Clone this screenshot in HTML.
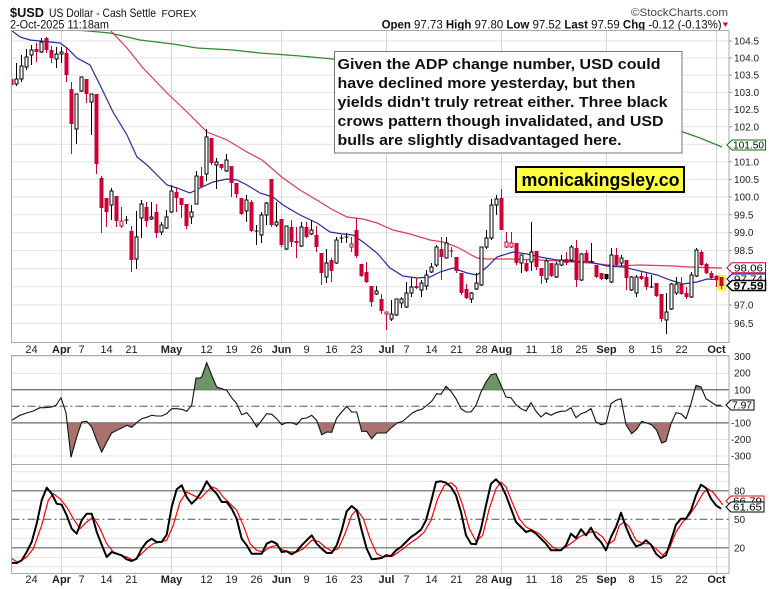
<!DOCTYPE html>
<html><head><meta charset="utf-8"><style>
html,body{margin:0;padding:0;background:#fff;}
svg{display:block;font-family:"Liberation Sans",Arial,sans-serif;}
</style></head><body>
<svg width="772" height="589" viewBox="0 0 772 589" xmlns="http://www.w3.org/2000/svg">
<defs>
<clipPath id="cm"><rect x="11.5" y="30.5" width="717.5" height="312"/></clipPath>
<clipPath id="cc"><rect x="11.5" y="355.5" width="717.5" height="109"/></clipPath>
<clipPath id="cs"><rect x="11.5" y="464.5" width="717.5" height="109"/></clipPath>
<clipPath id="ca"><rect x="11.5" y="355.5" width="717.5" height="34.25"/></clipPath>
<clipPath id="cb"><rect x="11.5" y="422.85" width="717.5" height="41.65"/></clipPath>
</defs>
<rect width="772" height="589" fill="#fff"/>

<!-- Header -->
<text x="10" y="17" font-size="13" font-weight="bold" fill="#111" textLength="34" lengthAdjust="spacingAndGlyphs">$USD</text>
<text x="49" y="17" font-size="12" fill="#111" textLength="107" lengthAdjust="spacingAndGlyphs">US Dollar - Cash Settle</text>
<text x="161.5" y="17" font-size="10" fill="#111" textLength="35" lengthAdjust="spacingAndGlyphs">FOREX</text>
<text x="10" y="28.5" font-size="12" fill="#111" textLength="99" lengthAdjust="spacingAndGlyphs">2-Oct-2025 11:18am</text>
<text x="631" y="16" font-size="11" fill="#444" textLength="97" lengthAdjust="spacingAndGlyphs">©StockCharts.com</text>
<text x="381.6" y="28.5" font-size="12" fill="#111" textLength="340" lengthAdjust="spacingAndGlyphs"><tspan font-weight="bold">Open</tspan> 97.73 <tspan font-weight="bold">High</tspan> 97.80 <tspan font-weight="bold">Low</tspan> 97.52 <tspan font-weight="bold">Last</tspan> 97.59 <tspan font-weight="bold">Chg</tspan> -0.12 (-0.13%)</text>
<path d="M722.8 22.5 L728 22.5 L725.4 27 Z" fill="#cc0033"/>

<!-- Main panel grid -->
<g stroke="#e2e2e2" stroke-width="1">
<path d="M11.5 41H729 M11.5 58H729 M11.5 75.1H729 M11.5 92.3H729 M11.5 109.5H729 M11.5 126.8H729 M11.5 144.3H729 M11.5 161.8H729 M11.5 179.4H729 M11.5 197H729 M11.5 214.8H729 M11.5 232.7H729 M11.5 250.6H729 M11.5 268.7H729 M11.5 286.8H729 M11.5 305H729 M11.5 323.4H729"/>
</g>
<g stroke="#d6d6d6" stroke-width="1">
<path d="M61.5 30.5V342.5 M171.5 30.5V342.5 M281.5 30.5V342.5 M386.5 30.5V342.5 M501.5 30.5V342.5 M606.5 30.5V342.5 M716.5 30.5V342.5"/>
<path d="M61.5 355.5V573.5 M171.5 355.5V573.5 M281.5 355.5V573.5 M386.5 355.5V573.5 M501.5 355.5V573.5 M606.5 355.5V573.5 M716.5 355.5V573.5"/>
</g>

<g clip-path="url(#cm)">
<!-- moving averages -->
<polyline fill="none" stroke="#2e8b2e" stroke-width="1.3" points="70,28 77,30 110,33 140,40 173,44 197,48 233,50 260,53 300,56 333,59 420,74 520,93 620,113 683,132 700,138 722,147"/>
<polyline fill="none" stroke="#e03a4e" stroke-width="1.2" points="106,26 110,30 127,48 143,68 167,93 187,112 207,132 227,140 247,152 262,160 283,178 300,190 320,202 333,210 347,217 363,219 377,223 393,230 410,234 430,240 443,242 457,247 477,258 487,259 500,259 507,259 540,260 590,263 617,266 640,265 673,266 690,267 722,268"/>
<polyline fill="none" stroke="#2a2aa0" stroke-width="1.2" points="11,30 20,37 30,40 50,42 60,43 67,48 77,58 90,65 100,85 113,112 127,135 137,157 147,165 160,178 167,185 177,188 190,193 200,188 213,182 227,179 237,180 247,185 260,193 273,197 283,205 300,215 317,223 330,232 343,234 353,235 363,242 377,253 390,268 403,276 417,278 430,277 440,272 453,268 467,273 477,275 487,267 497,257 500,256 513,252 527,254 540,257 557,260 573,261 590,262 607,266 623,267 640,271 657,275 670,280 683,284 697,282 707,279 722,280"/>

<!-- yellow highlight last candle -->
<rect x="717.5" y="275" width="8.5" height="16" fill="#fff04a"/>

<!-- red wicks -->
<path fill="none" stroke="#cc0033" stroke-width="1" d="M11.5 77V86 M36.5 43V62 M46.5 37V53 M51.5 46V63 M66.5 48V82 M71.5 82V154 M86.5 79V103 M96.5 94V174 M101.5 176V233 M106.5 198V227 M116.5 196V227 M121.5 207V228 M131.5 226V272 M146.5 202V227 M156.5 204V238 M176.5 188V212 M181.5 198V218 M186.5 204V229 M201.5 167V187 M211.5 138V165 M221.5 164V170 M231.5 166V197 M236.5 183V198 M241.5 198V215 M251.5 200V232 M271.5 179V227 M281.5 219V247 M291.5 220V247 M296.5 227V258 M306.5 222V238 M316.5 226V252 M321.5 253V285 M331.5 258V282 M351.5 237V252 M356.5 218V258 M361.5 264V277 M366.5 262V283 M371.5 286V307 M381.5 294V314 M386.5 312V330 M416.5 278V289 M441.5 237V280 M451.5 247V257 M456.5 257V273 M461.5 273V295 M466.5 284V299 M501.5 189V230 M506.5 232V248 M511.5 232V248 M516.5 243V265 M526.5 260V272 M536.5 251V270 M541.5 268V284 M551.5 263V277 M566.5 252V265 M576.5 240V287 M586.5 250V263 M596.5 265V278 M601.5 273V280 M616.5 248V266 M626.5 260V290 M641.5 272V280 M646.5 273V290 M656.5 283V297 M661.5 294V322 M681.5 277V295 M686.5 287V299 M701.5 250V266 M706.5 263V274 M711.5 271V279 M716.5 275V287 M721.5 277V289 M449.5 251H453.5"/>
<!-- red bodies -->
<g fill="#cc0033">
<rect x="9.5" y="79" width="4" height="6"/><rect x="34.5" y="49" width="4" height="3"/><rect x="44.5" y="38" width="4" height="12"/><rect x="49.5" y="50" width="4" height="8"/><rect x="64.5" y="53" width="4" height="22"/><rect x="69.5" y="89" width="4" height="35"/><rect x="84.5" y="79" width="4" height="15"/><rect x="94.5" y="94" width="4" height="70"/><rect x="99.5" y="178" width="4" height="30"/><rect x="104.5" y="198" width="4" height="14"/><rect x="114.5" y="196" width="4" height="25"/><rect x="129.5" y="231" width="4" height="29"/><rect x="144.5" y="207" width="4" height="14"/><rect x="154.5" y="212" width="4" height="21"/><rect x="174.5" y="192" width="4" height="6"/><rect x="179.5" y="198" width="4" height="7"/><rect x="184.5" y="204" width="4" height="22"/><rect x="199.5" y="176" width="4" height="11"/><rect x="209.5" y="138" width="4" height="25"/><rect x="219.5" y="164" width="4" height="4"/><rect x="229.5" y="166" width="4" height="17"/><rect x="234.5" y="183" width="4" height="11"/><rect x="239.5" y="198" width="4" height="16"/><rect x="249.5" y="202" width="4" height="29"/><rect x="269.5" y="179" width="4" height="46"/><rect x="279.5" y="219" width="4" height="26"/><rect x="289.5" y="227" width="4" height="15"/><rect x="294.5" y="241" width="4" height="2"/><rect x="304.5" y="227" width="4" height="10"/><rect x="314.5" y="235" width="4" height="12"/><rect x="319.5" y="253" width="4" height="20"/><rect x="329.5" y="260" width="4" height="11"/><rect x="354.5" y="230" width="4" height="26"/><rect x="359.5" y="264" width="4" height="12"/><rect x="364.5" y="272" width="4" height="10"/><rect x="369.5" y="286" width="4" height="16"/><rect x="379.5" y="299" width="4" height="12"/><rect x="414.5" y="286" width="4" height="2"/><rect x="439.5" y="249" width="4" height="8"/><rect x="454.5" y="257" width="4" height="14"/><rect x="459.5" y="273" width="4" height="20"/><rect x="464.5" y="289" width="4" height="9"/><rect x="499.5" y="198" width="4" height="32"/><rect x="514.5" y="243" width="4" height="20"/><rect x="524.5" y="263" width="4" height="8"/><rect x="534.5" y="251" width="4" height="16"/><rect x="539.5" y="268" width="4" height="8"/><rect x="549.5" y="263" width="4" height="13"/><rect x="564.5" y="259" width="4" height="4"/><rect x="574.5" y="248" width="4" height="32"/><rect x="584.5" y="253" width="4" height="9"/><rect x="594.5" y="265" width="4" height="12"/><rect x="599.5" y="273" width="4" height="6"/><rect x="614.5" y="255" width="4" height="10"/><rect x="624.5" y="260" width="4" height="18"/><rect x="639.5" y="276" width="4" height="3"/><rect x="644.5" y="277" width="4" height="10"/><rect x="654.5" y="283" width="4" height="13"/><rect x="659.5" y="294" width="4" height="25"/><rect x="679.5" y="284" width="4" height="10"/><rect x="684.5" y="293" width="4" height="4"/><rect x="699.5" y="252" width="4" height="13"/><rect x="704.5" y="264" width="4" height="9"/><rect x="709.5" y="273" width="4" height="5"/><rect x="714.5" y="276" width="4" height="4"/><rect x="719.5" y="277" width="4" height="9"/>
</g>
<!-- red hollow -->
<g fill="#fff" stroke="#cc0033" stroke-width="1">
<rect x="120" y="221" width="3" height="5"/><rect x="350" y="244" width="3" height="3"/><rect x="385" y="312" width="3" height="2"/><rect x="505" y="242" width="3" height="5"/><rect x="510" y="243" width="3" height="4"/>
</g>
<!-- black wicks -->
<path fill="none" stroke="#000" stroke-width="1" d="M16.5 63V86 M21.5 55V82 M26.5 49V70 M31.5 45V65 M41.5 38V53 M56.5 47V68 M61.5 47V63 M76.5 94V144 M81.5 77V92 M91.5 94V135 M111.5 188V220 M126.5 216V224 M136.5 211V269 M141.5 200V238 M151.5 202V220 M161.5 222V235 M166.5 210V229 M171.5 185V213 M191.5 205V224 M196.5 171V204 M206.5 129V181 M216.5 158V189 M226.5 154V172 M246.5 195V222 M256.5 225V245 M261.5 212V243 M266.5 202V225 M276.5 202V227 M286.5 226V250 M301.5 222V247 M311.5 220V235 M326.5 249V283 M336.5 237V264 M341.5 235V243 M346.5 233V243 M376.5 286V295 M391.5 300V321 M396.5 299V316 M401.5 297V308 M406.5 282V308 M411.5 278V297 M421.5 280V297 M426.5 270V290 M431.5 263V273 M436.5 245V267 M446.5 237V258 M471.5 292V303 M476.5 273V290 M481.5 247V286 M486.5 230V249 M491.5 199V240 M496.5 195V215 M521.5 255V273 M531.5 222V271 M546.5 259V283 M556.5 262V278 M561.5 255V266 M571.5 245V262 M581.5 253V281 M591.5 243V263 M606.5 274V280 M611.5 248V283 M621.5 255V266 M631.5 276V291 M636.5 275V297 M651.5 275V288 M666.5 293V334 M671.5 283V310 M676.5 277V295 M691.5 272V298 M696.5 248V277 M124.5 220H128.5 M254.5 231H258.5 M339.5 238H343.5 M344.5 237H348.5 M589.5 261.5H593.5 M649.5 287H653.5"/>
<rect x="604.5" y="274" width="4" height="5" fill="#000"/>
<!-- white bodies -->
<g fill="#fff" stroke="#000" stroke-width="1">
<rect x="15" y="79" width="3" height="5"/><rect x="20" y="66" width="3" height="13"/><rect x="25" y="57" width="3" height="10"/><rect x="30" y="50" width="3" height="5"/><rect x="40" y="42" width="3" height="10"/><rect x="55" y="54" width="3" height="5"/><rect x="60" y="52" width="3" height="2"/><rect x="75" y="94" width="3" height="35"/><rect x="80" y="77" width="3" height="14"/><rect x="90" y="94" width="3" height="8"/><rect x="110" y="191" width="3" height="14"/><rect x="135" y="237" width="3" height="22"/><rect x="140" y="204" width="3" height="14"/><rect x="150" y="217" width="3" height="2"/><rect x="160" y="225" width="3" height="7"/><rect x="165" y="217" width="3" height="11"/><rect x="170" y="191" width="3" height="21"/><rect x="190" y="212" width="3" height="5"/><rect x="195" y="176" width="3" height="28"/><rect x="205" y="137" width="3" height="37"/><rect x="215" y="162" width="3" height="3"/><rect x="225" y="160" width="3" height="11"/><rect x="245" y="200" width="3" height="11"/><rect x="260" y="215" width="3" height="20"/><rect x="265" y="203" width="3" height="12"/><rect x="275" y="222" width="3" height="3"/><rect x="285" y="226" width="3" height="23"/><rect x="300" y="227" width="3" height="19"/><rect x="310" y="230" width="3" height="4"/><rect x="325" y="263" width="3" height="14"/><rect x="335" y="240" width="3" height="23"/><rect x="375" y="291" width="3" height="3"/><rect x="390" y="314" width="3" height="5"/><rect x="395" y="299" width="3" height="16"/><rect x="400" y="299" width="3" height="4"/><rect x="405" y="293" width="3" height="14"/><rect x="410" y="287" width="3" height="6"/><rect x="420" y="283" width="3" height="7"/><rect x="425" y="275" width="3" height="11"/><rect x="430" y="267" width="3" height="5"/><rect x="435" y="247" width="3" height="18"/><rect x="445" y="243" width="3" height="15"/><rect x="470" y="293" width="3" height="6"/><rect x="475" y="283" width="3" height="6"/><rect x="480" y="247" width="3" height="38"/><rect x="485" y="238" width="3" height="9"/><rect x="490" y="205" width="3" height="33"/><rect x="495" y="199" width="3" height="6"/><rect x="520" y="255" width="3" height="8"/><rect x="530" y="252" width="3" height="10"/><rect x="545" y="261" width="3" height="18"/><rect x="555" y="264" width="3" height="13"/><rect x="560" y="260" width="3" height="5"/><rect x="570" y="247" width="3" height="13"/><rect x="580" y="254" width="3" height="26"/><rect x="610" y="255" width="3" height="27"/><rect x="620" y="258" width="3" height="5"/><rect x="630" y="277" width="3" height="13"/><rect x="635" y="277" width="3" height="16"/><rect x="665" y="312" width="3" height="8"/><rect x="670" y="284" width="3" height="25"/><rect x="675" y="284" width="3" height="9"/><rect x="690" y="275" width="3" height="22"/><rect x="695" y="250" width="3" height="26"/>
</g>
</g>

<!-- Annotation boxes -->
<rect x="334.5" y="51.5" width="347.5" height="101.5" fill="#fff" stroke="#777" stroke-width="1"/>
<g font-size="15" font-weight="bold" fill="#111">
<text x="337.5" y="69" textLength="323" lengthAdjust="spacingAndGlyphs">Given the ADP change number, USD could</text>
<text x="337.5" y="88" textLength="298" lengthAdjust="spacingAndGlyphs">have declined more yesterday, but then</text>
<text x="337.5" y="107" textLength="330" lengthAdjust="spacingAndGlyphs">yields didn't truly retreat either. Three black</text>
<text x="337.5" y="126" textLength="326" lengthAdjust="spacingAndGlyphs">crows pattern though invalidated, and USD</text>
<text x="337.5" y="145" textLength="284" lengthAdjust="spacingAndGlyphs">bulls are slightly disadvantaged here.</text>
</g>
<rect x="516" y="167" width="168" height="25" fill="#ffff40" stroke="#000" stroke-width="2"/>
<text x="521.5" y="186" font-size="18.5" font-weight="bold" fill="#000" textLength="158" lengthAdjust="spacingAndGlyphs">monicakingsley.co</text>

<!-- Main frame -->
<rect x="11.5" y="30.5" width="717.5" height="312" fill="none" stroke="#aaa" stroke-width="1"/>

<!-- Right axis main -->
<g stroke="#999" stroke-width="1">
<path d="M729 41h3 M729 58h3 M729 75.1h3 M729 92.3h3 M729 109.5h3 M729 126.8h3 M729 161.8h3 M729 179.4h3 M729 197h3 M729 214.8h3 M729 232.7h3 M729 250.6h3 M729 305h3 M729 323.4h3"/>
</g>
<g font-size="10" fill="#222">
<text x="734" y="44.5">104.5</text><text x="734" y="61.5">104.0</text><text x="734" y="78.6">103.5</text><text x="734" y="95.8">103.0</text><text x="734" y="113">102.5</text><text x="734" y="130.3">102.0</text><text x="734" y="165.3">101.0</text><text x="734" y="182.9">100.5</text><text x="734" y="200.5">100.0</text><text x="734" y="218.3">99.5</text><text x="734" y="236.2">99.0</text><text x="734" y="254.1">98.5</text><text x="734" y="308.5">97.0</text><text x="734" y="326.9">96.5</text>
</g>
<!-- Tags -->
<g font-size="10">
<path d="M727 145 L732 140 L765.5 140 L765.5 150 L732 150 Z" fill="#fff" stroke="#007700" stroke-width="1"/>
<text x="733" y="148.6" fill="#000" textLength="31" lengthAdjust="spacingAndGlyphs">101.50</text>
<path d="M727 267.7 L732 262.7 L765.5 262.7 L765.5 272.7 L732 272.7 Z" fill="#fff" stroke="#cc0033" stroke-width="1"/>
<text x="734" y="271.3" fill="#000" textLength="29" lengthAdjust="spacingAndGlyphs">98.06</text>
<path d="M727 279 L732 274 L765.5 274 L765.5 284 L732 284 Z" fill="#fff" stroke="#0000aa" stroke-width="1"/>
<text x="734" y="282.6" fill="#000" textLength="29" lengthAdjust="spacingAndGlyphs">97.74</text>
<path d="M727 285.5 L732 280.5 L765.5 280.5 L765.5 290.5 L732 290.5 Z" fill="#fff" stroke="#000" stroke-width="1.5"/>
<text x="733.5" y="289.3" fill="#000" font-weight="bold" font-size="11" textLength="30" lengthAdjust="spacingAndGlyphs">97.59</text>
</g>

<!-- X labels top -->
<g font-size="11" fill="#222" text-anchor="middle">
<text x="31.5" y="353">24</text><text x="61.5" y="353" font-weight="bold">Apr</text><text x="81.5" y="353">7</text><text x="106.5" y="353">14</text><text x="131.5" y="353">21</text><text x="171.5" y="353" font-weight="bold">May</text><text x="206.5" y="353">12</text><text x="231.5" y="353">19</text><text x="256.5" y="353">26</text><text x="281.5" y="353" font-weight="bold">Jun</text><text x="306.5" y="353">9</text><text x="331.5" y="353">16</text><text x="356.5" y="353">23</text><text x="386.5" y="353" font-weight="bold">Jul</text><text x="406.5" y="353">7</text><text x="431.5" y="353">14</text><text x="456.5" y="353">21</text><text x="481.5" y="353">28</text><text x="501.5" y="353" font-weight="bold">Aug</text><text x="531.5" y="353">11</text><text x="556.5" y="353">18</text><text x="581.5" y="353">25</text><text x="606.5" y="353" font-weight="bold">Sep</text><text x="631.5" y="353">8</text><text x="656.5" y="353">15</text><text x="681.5" y="353">22</text><text x="716.5" y="353" font-weight="bold">Oct</text>
</g>

<!-- CCI panel -->
<g stroke="#e2e2e2" stroke-width="1"><path d="M11.5 356.7H729 M11.5 373.2H729 M11.5 439.4H729 M11.5 456H729"/></g>
<g stroke="#666" stroke-width="1.2"><path d="M11.5 389.75H729 M11.5 422.85H729"/></g>
<path d="M11.5 406.3H729" stroke="#555" stroke-width="1" stroke-dasharray="8,3,2,3"/>
<g clip-path="url(#cc)">
<polygon clip-path="url(#ca)" fill="#6f946a" points="11.7,389.75 11.7,420.3 20,415.3 26.7,413 33.3,411 40,407.7 45,407.7 51.7,407 56,405.3 61,397.7 66,412.7 71,457.3 76.7,437 81.7,422 86.7,421.3 91.7,427 96.7,440.3 101.7,452 106.7,442 111.7,433 116.7,430.3 121.7,428 126.7,425.3 131.7,427.3 136.7,422.7 141.7,418.7 146.7,417.3 151.7,415.3 156.7,416 161.7,416 166.7,413.7 171.7,408.7 176.7,408.7 181.7,409.3 186.7,411.3 191.7,405.3 196,378 200,378 201.7,377 206.7,362.7 211.7,375.3 216.7,387 221.7,388.7 226.7,390.3 231.7,397.7 236.7,403.7 241.7,414.7 246.7,412.7 251.7,418.7 256.7,427 261.7,420.3 266.7,413.7 271.7,414.3 276.7,418.7 281.7,424.7 286.7,422.7 291.7,422.7 296.7,424.7 301.7,418.7 306.7,418 311.7,415.3 316.7,420.3 321.7,434.7 326.7,432 331.7,432.3 336.7,418 341.7,412 346.7,406.3 351.7,412 356.7,412 361.7,431.3 366.7,431.3 371.7,438.7 376.7,433 381.7,433 386,433 391,428 397.7,422.7 402.7,421.3 407.7,417 412.7,412.7 417.7,410.3 422,409.3 426,406 431.7,401.3 436.7,393.7 441,394.3 446,386.3 451,391.3 456,398.7 461,408.7 466,412 471,412 476,405.3 481,392 486,382 491,374.7 496,373.7 501,385.3 506,397 511,397.7 516,404.7 521,408.7 526,411 531,402.7 536,411.3 541,417 546,412.7 551,415.3 556,412.7 561,411.3 566,411 571,407.7 576,417.7 581,413.7 586,412 591,408.7 596,422 601,424.7 606,423.7 611,403.7 616,400.3 621,398.7 626,424.7 631.7,433.7 636.7,429.3 641.7,421.3 646.7,423 651.7,424.7 656.7,430.3 661.7,443 666,441.3 671,423.7 676,412.7 681,413.7 686,418.7 691,403.7 696,385.3 701,387 706,398.7 711,402 716,405.3 721,405.3 721,389.75"/>
<polygon clip-path="url(#cb)" fill="#a8736f" points="11.7,422.85 11.7,420.3 20,415.3 26.7,413 33.3,411 40,407.7 45,407.7 51.7,407 56,405.3 61,397.7 66,412.7 71,457.3 76.7,437 81.7,422 86.7,421.3 91.7,427 96.7,440.3 101.7,452 106.7,442 111.7,433 116.7,430.3 121.7,428 126.7,425.3 131.7,427.3 136.7,422.7 141.7,418.7 146.7,417.3 151.7,415.3 156.7,416 161.7,416 166.7,413.7 171.7,408.7 176.7,408.7 181.7,409.3 186.7,411.3 191.7,405.3 196,378 200,378 201.7,377 206.7,362.7 211.7,375.3 216.7,387 221.7,388.7 226.7,390.3 231.7,397.7 236.7,403.7 241.7,414.7 246.7,412.7 251.7,418.7 256.7,427 261.7,420.3 266.7,413.7 271.7,414.3 276.7,418.7 281.7,424.7 286.7,422.7 291.7,422.7 296.7,424.7 301.7,418.7 306.7,418 311.7,415.3 316.7,420.3 321.7,434.7 326.7,432 331.7,432.3 336.7,418 341.7,412 346.7,406.3 351.7,412 356.7,412 361.7,431.3 366.7,431.3 371.7,438.7 376.7,433 381.7,433 386,433 391,428 397.7,422.7 402.7,421.3 407.7,417 412.7,412.7 417.7,410.3 422,409.3 426,406 431.7,401.3 436.7,393.7 441,394.3 446,386.3 451,391.3 456,398.7 461,408.7 466,412 471,412 476,405.3 481,392 486,382 491,374.7 496,373.7 501,385.3 506,397 511,397.7 516,404.7 521,408.7 526,411 531,402.7 536,411.3 541,417 546,412.7 551,415.3 556,412.7 561,411.3 566,411 571,407.7 576,417.7 581,413.7 586,412 591,408.7 596,422 601,424.7 606,423.7 611,403.7 616,400.3 621,398.7 626,424.7 631.7,433.7 636.7,429.3 641.7,421.3 646.7,423 651.7,424.7 656.7,430.3 661.7,443 666,441.3 671,423.7 676,412.7 681,413.7 686,418.7 691,403.7 696,385.3 701,387 706,398.7 711,402 716,405.3 721,405.3 721,422.85"/>
<polyline fill="none" stroke="#111" stroke-width="1.1" points="11.7,420.3 20,415.3 26.7,413 33.3,411 40,407.7 45,407.7 51.7,407 56,405.3 61,397.7 66,412.7 71,457.3 76.7,437 81.7,422 86.7,421.3 91.7,427 96.7,440.3 101.7,452 106.7,442 111.7,433 116.7,430.3 121.7,428 126.7,425.3 131.7,427.3 136.7,422.7 141.7,418.7 146.7,417.3 151.7,415.3 156.7,416 161.7,416 166.7,413.7 171.7,408.7 176.7,408.7 181.7,409.3 186.7,411.3 191.7,405.3 196,378 200,378 201.7,377 206.7,362.7 211.7,375.3 216.7,387 221.7,388.7 226.7,390.3 231.7,397.7 236.7,403.7 241.7,414.7 246.7,412.7 251.7,418.7 256.7,427 261.7,420.3 266.7,413.7 271.7,414.3 276.7,418.7 281.7,424.7 286.7,422.7 291.7,422.7 296.7,424.7 301.7,418.7 306.7,418 311.7,415.3 316.7,420.3 321.7,434.7 326.7,432 331.7,432.3 336.7,418 341.7,412 346.7,406.3 351.7,412 356.7,412 361.7,431.3 366.7,431.3 371.7,438.7 376.7,433 381.7,433 386,433 391,428 397.7,422.7 402.7,421.3 407.7,417 412.7,412.7 417.7,410.3 422,409.3 426,406 431.7,401.3 436.7,393.7 441,394.3 446,386.3 451,391.3 456,398.7 461,408.7 466,412 471,412 476,405.3 481,392 486,382 491,374.7 496,373.7 501,385.3 506,397 511,397.7 516,404.7 521,408.7 526,411 531,402.7 536,411.3 541,417 546,412.7 551,415.3 556,412.7 561,411.3 566,411 571,407.7 576,417.7 581,413.7 586,412 591,408.7 596,422 601,424.7 606,423.7 611,403.7 616,400.3 621,398.7 626,424.7 631.7,433.7 636.7,429.3 641.7,421.3 646.7,423 651.7,424.7 656.7,430.3 661.7,443 666,441.3 671,423.7 676,412.7 681,413.7 686,418.7 691,403.7 696,385.3 701,387 706,398.7 711,402 716,405.3 721,405.3"/>
</g>
<rect x="11.5" y="355.5" width="717.5" height="109" fill="none" stroke="#aaa" stroke-width="1"/>
<g font-size="10" fill="#222">
<text x="734" y="360.2">300</text><text x="734" y="376.7">200</text><text x="734" y="393.3">100</text><text x="731" y="426.4">-100</text><text x="731" y="442.9">-200</text><text x="731" y="459.5">-300</text>
</g>
<path d="M726 405 L731 400 L754 400 L754 410 L731 410 Z" fill="#fff" stroke="#000" stroke-width="1"/>
<text x="732" y="408.6" font-size="10" fill="#000" textLength="20" lengthAdjust="spacingAndGlyphs">7.97</text>

<!-- Stoch panel -->
<g stroke="#e2e2e2" stroke-width="1"><path d="M11.5 471.8H729 M11.5 481.3H729 M11.5 500.3H729 M11.5 509.8H729 M11.5 528.8H729 M11.5 538.3H729 M11.5 557.3H729 M11.5 566.8H729"/></g>
<g stroke="#666" stroke-width="1.2"><path d="M11.5 490.8H729 M11.5 547.8H729"/></g>
<path d="M11.5 519.3H729" stroke="#555" stroke-width="1" stroke-dasharray="8,3,2,3"/>
<g clip-path="url(#cs)">
<polyline fill="none" stroke="#ff0000" stroke-width="1.2" points="11.7,558.7 18.3,562.7 26.7,557 33.3,548.7 41.7,525.3 48.3,500.3 53.3,493.7 60,498.7 66.7,507 73.3,518.7 80,528.7 86.7,522 93.3,517 100,528.7 106.7,543.7 113.3,552 120,555.3 126.7,557 133.3,560.3 140,555.3 146.7,548.7 153.3,543.7 160,542 166.7,540.3 173.3,525.3 180,502 186.7,492 193.3,495.3 200,498.7 206.7,492 211.7,487 216.7,488.7 223.3,497 230,503.7 236.7,510.3 243.3,525.3 250,543.7 256.7,550.3 263.3,552 270,547 276.7,545.3 283.3,550.3 290,552 296.7,552 303.3,548.7 311.7,540.3 318.3,541.3 325,547 331.7,551.3 338.3,548.7 345,533.7 351.7,515.3 356.7,509.3 363.3,518.7 370,538.7 376.7,553.7 383.3,557 392.7,556 401,550.3 409.3,543.7 417.7,538 424.3,532 431,520.3 437.7,498.7 444.3,485.3 451,482.7 456,487 462.7,505.3 469.3,528.7 476,541.3 482.7,535.3 489.3,508.7 496,488.7 501,482 506,487 512.7,503.7 519.3,518.7 526,527 532.7,530.3 539.3,533.7 546,540.3 552.7,547 559.3,550.3 566,547 572.7,542 579.3,537 586,533.7 591,532 596,532 602.7,537 607.7,544.7 614.3,540.3 619.3,525.3 624.3,522 629.3,527 636,540.3 642.7,543.7 649.3,543.7 656,548.7 662.7,555.3 669.3,548.7 676,532 682.7,522 689.3,515.3 696,505.3 702.7,493.7 707.7,488.7 712.7,492 719.3,500.3 722.7,504.7"/>
<polyline fill="none" stroke="#000" stroke-width="2" stroke-linejoin="round" points="11.7,562.7 16.7,563 21.7,560.3 26.7,552 31.7,542 36.7,523.7 41.7,500.3 46.7,487.7 51.7,493.7 56.7,503.7 61.7,504.7 66.7,515.3 71.7,528.7 76.7,533.7 81.7,520.3 86.7,513.7 91.7,513.7 96.7,532 101.7,544.7 106.7,557 111.7,552 116.7,553.7 121.7,555.3 126.7,559.3 131.7,561 136.7,558.7 141.7,548.7 146.7,542 151.7,538.7 156.7,542 161.7,542 166.7,534.7 171.7,507 176.7,489.3 181.7,485.3 186.7,497 191.7,503.7 196.7,498.7 201.7,491.3 206.7,481.3 211.7,488.7 216.7,493.7 221.7,502 226.7,502 231.7,508.7 236.7,518.7 241.7,538.7 246.7,545.3 251.7,553.7 256.7,553.7 261.7,553.7 266.7,543.7 271.7,541.3 276.7,543.7 281.7,552 286.7,551.3 291.7,554.3 296.7,551.3 301.7,545.3 306.7,540.3 311.7,535.3 316.7,543.7 321.7,548.7 326.7,553 331.7,553 336.7,545.3 341.7,530.3 346.7,511.3 351.7,506 356.7,510.3 361.7,530.3 366.7,548.7 371.7,559.3 376.7,558.7 381.7,558 386,555.3 391,556 396,550.3 401,547 406,542 411,537 416,533.7 421,529.7 426,520.3 431,502 436,482 441,481.3 446,482.7 451,487 456,495.3 461,512 466,535.3 471,543.7 476,544.3 481,528.7 486,505.3 491,483.7 496,479.3 501,484.7 506,495.3 511,508.7 516,522 521,527 526,532 531,530.3 536,533.7 541,538.7 546,543.7 551,550.3 556,550.3 561,550.3 566,545.3 571,533.7 576,538 581,529.3 586,535.3 591,527.7 596,537 601,542 606,550.3 611,537 616,527 621,512.7 626,527 631,538.7 636,546.3 641,544.7 646,540.3 651,544.7 656,553.7 661,558 666,555.3 671,540.3 676,524.7 681,518.7 686,518.7 691,510.3 696,495.3 701,484.7 706,488 711,498.7 716,505.3 721,508.7"/>
</g>
<rect x="11.5" y="464.5" width="717.5" height="109" fill="none" stroke="#aaa" stroke-width="1"/>
<g font-size="10" fill="#222">
<text x="734" y="494.3">80</text><text x="734" y="522.8">50</text><text x="734" y="551.3">20</text>
</g>
<path d="M726 501 L731 496 L764 496 L764 506 L731 506 Z" fill="#fff" stroke="#ff0000" stroke-width="1"/>
<text x="733" y="504.6" font-size="10" fill="#000" textLength="29" lengthAdjust="spacingAndGlyphs">66.79</text>
<path d="M726 507 L731 502 L764 502 L764 512 L731 512 Z" fill="#fff" stroke="#000" stroke-width="1"/>
<text x="733" y="510.6" font-size="10" fill="#000" textLength="29" lengthAdjust="spacingAndGlyphs">61.65</text>

<!-- X labels bottom -->
<g font-size="11" fill="#222" text-anchor="middle">
<text x="31.5" y="583">24</text><text x="61.5" y="583" font-weight="bold">Apr</text><text x="81.5" y="583">7</text><text x="106.5" y="583">14</text><text x="131.5" y="583">21</text><text x="171.5" y="583" font-weight="bold">May</text><text x="206.5" y="583">12</text><text x="231.5" y="583">19</text><text x="256.5" y="583">26</text><text x="281.5" y="583" font-weight="bold">Jun</text><text x="306.5" y="583">9</text><text x="331.5" y="583">16</text><text x="356.5" y="583">23</text><text x="386.5" y="583" font-weight="bold">Jul</text><text x="406.5" y="583">7</text><text x="431.5" y="583">14</text><text x="456.5" y="583">21</text><text x="481.5" y="583">28</text><text x="501.5" y="583" font-weight="bold">Aug</text><text x="531.5" y="583">11</text><text x="556.5" y="583">18</text><text x="581.5" y="583">25</text><text x="606.5" y="583" font-weight="bold">Sep</text><text x="631.5" y="583">8</text><text x="656.5" y="583">15</text><text x="681.5" y="583">22</text><text x="716.5" y="583" font-weight="bold">Oct</text>
</g>
</svg>
</body></html>
